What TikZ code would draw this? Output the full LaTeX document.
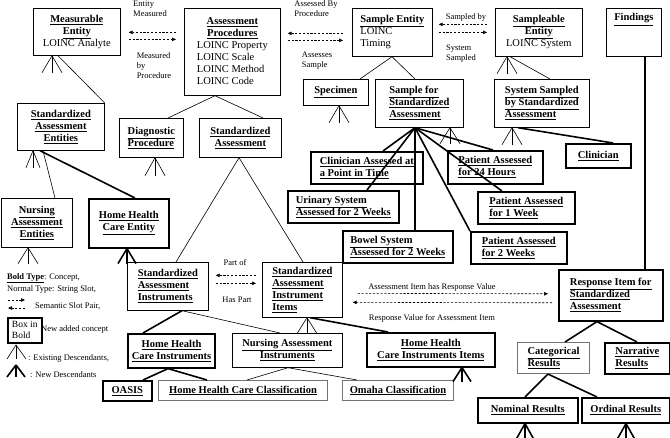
\documentclass[tikz,border=0pt]{standalone}
\usepackage{fontspec}
\setmainfont{Liberation Serif}
\usetikzlibrary{arrows.meta, positioning, calc}

\newcommand{\cname}[1]{\underline{\textbf{#1}}}

\tikzset{
  box/.style={draw, line width=0.7pt, anchor=north west, inner xsep=4pt, inner ysep=2pt,
    font=\fontsize{10.5}{12}\selectfont},
  nbox/.style={box, line width=1.6pt},
  gbox/.style={box, draw=black!55, line width=1.1pt},
  sz/.style 2 args={minimum width=#1pt, minimum height=#2pt},
  lbl/.style={font=\fontsize{8.5}{10}\selectfont, inner sep=0pt, align=left},
  leg/.style={font=\fontsize{8.5}{12}\selectfont, inner sep=0pt, align=left, anchor=west},
  isa/.style={line width=0.6pt},
  newisa/.style={line width=1.6pt},
  slot/.style={dash pattern=on 2.2pt off 1.6pt, line width=0.6pt, -{Triangle[length=4pt,width=3.5pt]}},
}

\begin{document}
\begin{tikzpicture}[x=1pt, y=-1pt]
  \useasboundingbox (0,0) rectangle (670,438);

  % top row
  \node[box, sz={87}{47}, align=center] (me) at (33,8) {\cname{Measurable}\\\cname{Entity}\\LOINC Analyte};
  \node[box, sz={96}{87}] (ap) at (184,8) {\begin{tabular}{@{}l@{}}
      \multicolumn{1}{@{}c@{}}{\cname{Assessment}}\\
      \multicolumn{1}{@{}c@{}}{\cname{Procedures}}\\
      LOINC Property\\LOINC Scale\\LOINC Method\\LOINC Code\end{tabular}};
  \node[box, sz={80}{48}, align=left] (se) at (352,8) {\cname{Sample Entity}\\LOINC\\Timing};
  \node[box, sz={87}{48}, align=center] (sme) at (495,8) {\cname{Sampleable}\\\cname{Entity}\\LOINC System};
  \node[box, sz={55}{48}, text depth=30pt] (fi) at (606,8) {\cname{Findings}};

  % second row
  \node[box, sz={65}{26}] (sp) at (303,79) {\cname{Specimen}};
  \node[box, sz={88}{48}, align=left] (ssa) at (375,79) {\cname{Sample for}\\\cname{Standardized}\\\cname{Assessment}};
  \node[box, sz={95}{48}, align=left] (sys) at (494,79) {\cname{System Sampled}\\\cname{by Standardized}\\\cname{Assessment}};
  \node[box, sz={87}{47}, align=center] (sae) at (17,103) {\cname{Standardized}\\\cname{Assessment}\\\cname{Entities}};
  \node[box, sz={64}{39}, align=left] (dp) at (119,118) {\cname{Diagnostic}\\\cname{Procedure}};
  \node[box, sz={82}{39}, align=center] (sa) at (199,118) {\cname{Standardized}\\\cname{Assessment}};

  % samples for standardized assessment
  \node[nbox, sz={112}{32}, align=left] (cap) at (310,151) {\cname{Clinician Assessed at}\\\cname{a Point in Time}};
  \node[nbox, sz={111}{32}, align=left] (ur) at (287,190) {\cname{Urinary System}\\\cname{Assessed for 2 Weeks}};
  \node[nbox, sz={110}{32}, align=left] (bw) at (342,230) {\cname{Bowel System}\\\cname{Assessed for 2 Weeks}};
  \node[nbox, sz={95}{33}, align=left] (p24) at (447,150) {\cname{Patient Assessed}\\\cname{for 24 Hours}};
  \node[nbox, sz={97}{32}, align=left] (p1w) at (477,191) {\cname{Patient Assessed}\\\cname{for 1 Week}};
  \node[nbox, sz={96}{32}, align=left] (p2w) at (470,231) {\cname{Patient Assessed}\\\cname{for 2 Weeks}};
  \node[nbox, sz={65}{24}] (cl) at (565,143) {\cname{Clinician}};

  % entities and instruments
  \node[box, sz={71}{49}, align=center] (nae) at (1,198) {\cname{Nursing}\\\cname{Assessment}\\\cname{Entities}};
  \node[nbox, sz={80}{49}, align=center] (hhce) at (88,198) {\cname{Home Health}\\\cname{Care Entity}};
  \node[box, sz={81}{48}, align=left] (sai) at (127,262) {\cname{Standardized}\\\cname{Assessment}\\\cname{Instruments}};
  \node[box, sz={80}{55}, align=left] (saii) at (262,262) {\cname{Standardized}\\\cname{Assessment}\\\cname{Instrument}\\\cname{Items}};
  \node[nbox, sz={87}{34}, align=center] (hhci) at (127,333) {\cname{Home Health}\\\cname{Care Instruments}};
  \node[box, sz={110}{34}, align=center] (nai) at (232,333) {\cname{Nursing Assessment}\\\cname{Instruments}};
  \node[nbox, sz={128}{34}, align=center] (hhcii) at (366,332) {\cname{Home Health}\\\cname{Care Instruments Items}};
  \node[nbox, sz={49}{20}] (oasis) at (102,380) {\cname{OASIS}};
  \node[gbox, sz={169}{20}] (hhcc) at (158,380) {\cname{Home Health Care Classification}};
  \node[gbox, sz={111}{20}] (omaha) at (342,380) {\cname{Omaha Classification}};

  % results
  \node[nbox, sz={104}{51}, align=left] (ri) at (558,269) {\cname{Response Item for}\\\cname{Standardized}\\\cname{Assessment}};
  \node[gbox, sz={72}{31}, align=left] (cr) at (517,342) {\cname{Categorical}\\\cname{Results}};
  \node[nbox, sz={65}{31}, align=left] (nr) at (604,342) {\cname{Narrative}\\\cname{Results}};
  \node[nbox, sz={100}{25}] (nom) at (477,397) {\cname{Nominal Results}};
  \node[nbox, sz={88}{25}] (ord) at (581,397) {\cname{Ordinal Results}};

  % semantic slot pairs
  \node[lbl] (l1a) at (150,9) {Entity\\Measured};
  \node[lbl] (l1b) at (154,66) {Measured\\by\\Procedure};
  \draw[slot] ($(ap.west)+(-8,-19.5)$) -- ($(me.east)+(8,0.5)$);
  \draw[slot] ($(me.east)+(8,7.5)$) -- ($(ap.west)+(-8,-12.5)$);
  \node[lbl] (l2a) at (316,9) {Assessed By\\Procedure};
  \node[lbl] (l2b) at (317,61) {Assesses\\Sample};
  \draw[slot] ($(se.west)+(-9,1)$) -- ($(ap.east)+(7,-18.5)$);
  \draw[slot] ($(ap.east)+(7,-11.5)$) -- ($(se.west)+(-9,8)$);
  \node[lbl] (l3a) at (466,17) {Sampled by};
  \node[lbl] (l3b) at (461,54) {System\\Sampled};
  \draw[slot] ($(sme.west)+(-8,-8)$) -- ($(se.east)+(6,-8)$);
  \draw[slot] ($(se.east)+(6,0)$) -- ($(sme.west)+(-8,0)$);
  \node[lbl] (l4a) at (235,263) {Part of};
  \node[lbl] (l4b) at (237,300) {Has Part};
  \draw[slot] ($(saii.west)+(-6,-14.5)$) -- ($(sai.east)+(7,-11)$);
  \draw[slot] ($(sai.east)+(7,-3)$) -- ($(saii.west)+(-6,-6.5)$);
  \node[lbl] (l5a) at (432,287) {Assessment Item has Response Value};
  \node[lbl] (l5b) at (432,318) {Response Value for Assessment Item};
  \draw[slot] ($(saii.east)+(15,3.5)$) -- ($(ri.west)+(-10,-1.5)$);
  \draw[slot] ($(ri.west)+(-6,7.5)$) -- ($(saii.east)+(10,12.5)$);

  % existing is-a links
  \draw[isa] ($(me.south west)+(25,0)$) -- (sae.north east);
  \draw[isa] ($(ap.south west)+(31,0)$) -- ($(dp.north west)+(49,0)$);
  \draw[isa] ($(ap.south west)+(31,0)$) -- ($(sa.north west)+(64,0)$);
  \draw[isa] ($(se.south west)+(40,0)$) -- ($(sp.north west)+(57,0)$);
  \draw[isa] ($(se.south west)+(40,0)$) -- ($(ssa.north west)+(40,0)$);
  \draw[isa] ($(sme.south west)+(15,0)$) -- ($(sys.north west)+(56,0)$);
  \draw[isa] ($(sae.south west)+(26,0)$) -- ($(nae.north west)+(54,0)$);
  \draw[isa] ($(sa.south west)+(40,0)$) -- ($(sai.north west)+(49,0)$);
  \draw[isa] ($(sa.south west)+(40,0)$) -- ($(saii.north west)+(41,0)$);
  \draw[isa] ($(sai.south west)+(55,0)$) -- ($(nai.north west)+(48,0)$);
  \draw[isa] ($(nai.south west)+(56,0)$) -- ($(hhcc.north west)+(89,0)$);
  \draw[isa] ($(nai.south west)+(56,0)$) -- ($(omaha.north west)+(15,0)$);

  % new is-a links
  \draw[newisa] ($(sae.south west)+(23,0)$) -- ($(hhce.north west)+(47,0)$);
  \foreach \t/\dx in {cap/73, ur/80, bw/73, p24/46, p1w/25, p2w/0}
    \draw[newisa] ($(ssa.south west)+(40,0)$) -- ($(\t.north west)+(\dx,0)$);
  \draw[newisa] ($(sys.south west)+(24,0)$) -- ($(cl.north west)+(48,0)$);
  \draw[line width=1.4pt] ($(fi.south west)+(39,0)$) -- ($(ri.north west)+(87,0)$);
  \draw[newisa] ($(sai.south west)+(55,0)$) -- ($(hhci.north west)+(16,0)$);
  \draw[newisa] ($(saii.south west)+(48,0)$) -- ($(hhcii.north west)+(22,0)$);
  \draw[newisa] ($(hhci.south west)+(41,0)$) -- ($(oasis.north west)+(41,0)$);
  \draw[newisa] ($(hhci.south west)+(41,0)$) -- ($(hhcc.north west)+(49,0)$);
  \draw[newisa] ($(ri.south west)+(39,0)$) -- ($(cr.north west)+(48,0)$);
  \draw[newisa] ($(ri.south west)+(39,0)$) -- ($(nr.north west)+(33,0)$);
  \draw[newisa] ($(cr.south west)+(31,0)$) -- ($(nom.north west)+(48,0)$);
  \draw[newisa] ($(cr.south west)+(31,0)$) -- ($(ord.north west)+(16,0)$);

  % existing descendants
  \foreach \d in {-10,0,10} {
    \draw[isa] ($(me.south west)+(19,0)$) -- ++(\d,17);
    \draw[isa] ($(dp.south west)+(36,0)$) -- ++(\d,18);
    \draw[isa] ($(sp.south west)+(36,0)$) -- ++(\d,17);
    \draw[isa] ($(ssa.south west)+(75,0)$) -- ++(\d,16);
    \draw[isa] ($(sme.south west)+(12,0)$) -- ++(\d,17);
    \draw[isa] ($(sys.south west)+(18,0)$) -- ++(\d,17);
    \draw[isa] ($(nae.south west)+(27,0)$) -- ++(\d,16);
    \draw[isa] ($(saii.south west)+(45,0)$) -- ++(\d,16);
  }
  \foreach \d in {-7,0,7}
    \draw[isa] ($(sae.south west)+(16,0)$) -- ++(\d,17);

  % new descendants
  \foreach \d in {-9,0,9} {
    \draw[newisa] ($(hhce.south west)+(39,0)$) -- ++(\d,15);
    \draw[newisa] ($(hhcii.south west)+(96,0)$) -- ++(\d,14);
    \draw[newisa] ($(nom.south west)+(48,0)$) -- ++(\d,16);
    \draw[newisa] ($(ord.south west)+(45,0)$) -- ++(\d,16);
  }

  % legend
  \node[leg] (lbt) at (7,283) {\cname{Bold Type}: Concept,\\Normal Type: String Slot,};
  \node[leg] (lsp) at (35,306) {Semantic Slot Pair,};
  \draw[slot] ($(lsp.west)+(-27,-6)$) -- ($(lsp.west)+(-10,-6)$);
  \draw[slot] ($(lsp.west)+(-10,2)$) -- ($(lsp.west)+(-27,2)$);
  \node[nbox, sz={34}{25}, inner xsep=1.5pt, inner ysep=1pt, align=left,
    font=\fontsize{9.5}{11}\selectfont] (lbox) at (7,317) {Box in\\Bold};
  \node[leg] (lnew) at (41,329) {New added concept};
  \node[leg] (lex) at (28,358) {: Existing Descendants,};
  \node[leg] (lnd) at (30,375) {: New Descendants};
  \foreach \d in {-9,0,10}
    \draw[isa] ($(lex.west)+(-12,-13)$) -- ++(\d,14);
  \foreach \d in {-9,0,9}
    \draw[newisa] ($(lnd.west)+(-14,-10)$) -- ++(\d,12);
\end{tikzpicture}
\end{document}
